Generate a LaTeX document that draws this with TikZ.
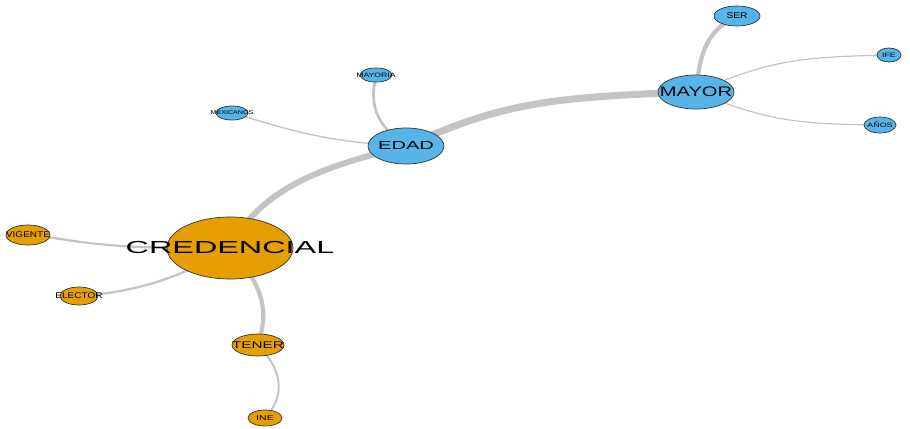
\documentclass[tikz,border=0pt]{standalone}
\usepackage{fontspec}
\usepackage{graphicx}
\setmainfont{Liberation Sans}
\usetikzlibrary{shapes.geometric, backgrounds}
\definecolor{azul}{HTML}{56B4E9}
\definecolor{naranja}{HTML}{E69F00}
\definecolor{arista}{HTML}{C4C4C4}
\newcommand{\etiq}[3]{\fontsize{#1}{#1}\selectfont\makebox[0pt]{\scalebox{#2}[1]{#3}}}

\begin{document}
\begin{tikzpicture}[x=0.02cm, y=-0.02cm,
  palabra/.style={ellipse, draw=black!80, line width=0.4pt, inner sep=0pt},
  azulnodo/.style={palabra, fill=azul},
  naranjanodo/.style={palabra, fill=naranja},
  enlace/.style={draw=arista, line cap=round}]
\useasboundingbox (0,0) rectangle (910,429);
% Grupo credencial
\node[naranjanodo, minimum width=2.52cm, minimum height=1.24cm] (credencial) at (230,248) {\etiq{9.9}{1.86}{CREDENCIAL}};
\node[naranjanodo, minimum width=0.88cm, minimum height=0.4cm] (vigente) at (28,235) {\etiq{4.75}{1.2}{VIGENTE}};
\node[naranjanodo, minimum width=0.76cm, minimum height=0.36cm] (elector) at (79,296) {\etiq{4.75}{1.2}{ELECTOR}};
\node[naranjanodo, minimum width=1.04cm, minimum height=0.44cm] (tener) at (258,345) {\etiq{5.5}{1.58}{TENER}};
\node[naranjanodo, minimum width=0.68cm, minimum height=0.32cm] (ine) at (265,418) {\etiq{4}{1.5}{INE}};
% Grupo edad
\node[azulnodo, minimum width=1.52cm, minimum height=0.72cm] (edad) at (406,146) {\etiq{6.6}{1.73}{EDAD}};
\node[azulnodo, minimum width=0.64cm, minimum height=0.28cm] (mayoria) at (376,75) {\etiq{3.6}{1.37}{MAYORIA}};
\node[azulnodo, minimum width=0.64cm, minimum height=0.28cm] (mexicanos) at (232,113) {\etiq{3.2}{1.27}{MEXICANOS}};
% Grupo mayor
\node[azulnodo, minimum width=1.52cm, minimum height=0.68cm] (mayor) at (696,92) {\etiq{7.9}{1.45}{MAYOR}};
\node[azulnodo, minimum width=0.92cm, minimum height=0.4cm] (ser) at (737,16) {\etiq{4.75}{1.22}{SER}};
\node[azulnodo, minimum width=0.48cm, minimum height=0.28cm] (ife) at (889,55) {\etiq{3.6}{1.4}{IFE}};
\node[azulnodo, minimum width=0.64cm, minimum height=0.32cm] (anos) at (880,125) {\etiq{3.6}{1.4}{AÑOS}};

\begin{pgfonlayer}{background}
\draw[enlace, line width=3.4pt] (credencial.center) .. controls (262,185) and (330,165) .. (edad.center);
\draw[enlace, line width=4pt] (edad.center) .. controls (500,105) and (540,97) .. (mayor.center);
\draw[enlace, line width=2.4pt] (mayor.center) .. controls (700,50) and (708,30) .. (ser.center);
\draw[enlace, line width=0.7pt] (mayor.center) .. controls (770,60) and (800,57) .. (ife.center);
\draw[enlace, line width=0.7pt] (mayor.center) .. controls (770,122) and (800,124) .. (anos.center);
\draw[enlace, line width=1.6pt] (edad.center) .. controls (368,120) and (372,95) .. (mayoria.center);
\draw[enlace, line width=0.8pt] (edad.center) .. controls (320,142) and (285,128) .. (mexicanos.center);
\draw[enlace, line width=1.3pt] (credencial.center) .. controls (90,250) and (70,238) .. (vigente.center);
\draw[enlace, line width=1.3pt] (credencial.center) .. controls (170,285) and (120,293) .. (elector.center);
\draw[enlace, line width=2.4pt] (credencial.center) .. controls (272,295) and (265,320) .. (tener.center);
\draw[enlace, line width=1.1pt] (tener.center) .. controls (287,375) and (282,400) .. (ine.center);
\end{pgfonlayer}
\end{tikzpicture}
\end{document}
